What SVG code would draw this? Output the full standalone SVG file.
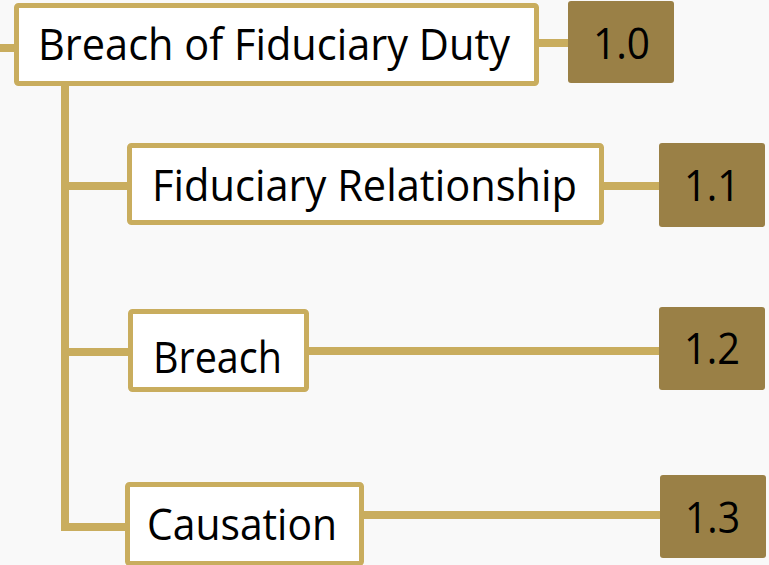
<svg xmlns="http://www.w3.org/2000/svg" width="769" height="565" viewBox="0 0 769 565">
<style>
.box{fill:#ffffff;stroke:#c9ad5e;stroke-width:5}
.num{fill:#9a8046}
.con{fill:none;stroke:#c9ad5e;stroke-width:8;stroke-linejoin:miter}
text{font-family:"Open Sans","Noto Sans",sans-serif;fill:#000;font-size:44px}
</style>
<rect width="769" height="565" fill="#f9f9f9"/>
<g id="connectors">
<path class="con" d="M0 48H16"/>
<path class="con" d="M537 43H570"/>
<path class="con" d="M65 84V527H127"/>
<path class="con" d="M65 186H129"/>
<path class="con" d="M602 186H661"/>
<path class="con" d="M65 352H130"/>
<path class="con" d="M307 351H661"/>
<path class="con" d="M362 515H662"/>
</g>
<g id="n10">
<rect class="box" x="16.5" y="5.5" width="520" height="78" rx="2"/>
<text x="38" y="60" textLength="472" lengthAdjust="spacingAndGlyphs">Breach of Fiduciary Duty</text>
</g>
<g id="b10">
<rect class="num" x="568" y="1" width="106" height="82" rx="3"/>
<text x="593" y="59" textLength="57" lengthAdjust="spacingAndGlyphs" font-size="45">1.0</text>
</g>
<g id="n11">
<rect class="box" x="129.5" y="145.5" width="472" height="77" rx="2"/>
<text x="152" y="201" textLength="425" lengthAdjust="spacingAndGlyphs">Fiduciary Relationship</text>
</g>
<g id="b11">
<rect class="num" x="659" y="143" width="106" height="84" rx="3"/>
<text x="684" y="201" textLength="56" lengthAdjust="spacingAndGlyphs" font-size="45">1.1</text>
</g>
<g id="n12">
<rect class="box" x="130.5" y="311.5" width="176" height="78" rx="2"/>
<text x="153" y="373" textLength="129" lengthAdjust="spacingAndGlyphs" font-size="48">Breach</text>
</g>
<g id="b12">
<rect class="num" x="659" y="307" width="106" height="83" rx="3"/>
<text x="684" y="364" textLength="56" lengthAdjust="spacingAndGlyphs" font-size="45">1.2</text>
</g>
<g id="n13">
<rect class="box" x="127.5" y="484.5" width="234" height="79" rx="2"/>
<text x="147" y="540" textLength="190" lengthAdjust="spacingAndGlyphs">Causation</text>
</g>
<g id="b13">
<rect class="num" x="660" y="475" width="106" height="83" rx="3"/>
<text x="685" y="533" textLength="55" lengthAdjust="spacingAndGlyphs" font-size="45">1.3</text>
</g>
</svg>
